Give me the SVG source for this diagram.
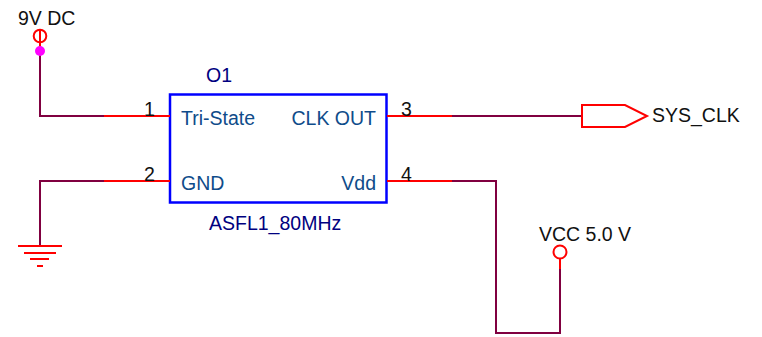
<svg xmlns="http://www.w3.org/2000/svg" width="762" height="337" viewBox="0 0 762 337">
<style>
text{font-family:"Liberation Sans",Arial,sans-serif;font-size:19.5px}
.w{fill:none;stroke:#800040;stroke-width:2}
.r{fill:none;stroke:#f00;stroke-width:2}
.k{fill:#111}
.p{fill:#0f4c8a}
.n{fill:#000080}
</style>
<rect width="762" height="337" fill="#fff"/>
<g id="connectors">
<path class="w" d="M40 50V116H104"/>
<path class="w" d="M104 181H40V246"/>
<path class="w" d="M452 116H582"/>
<path class="w" d="M452 181H496V333H560V268"/>
</g>
<g id="O1">
<rect x="170" y="94.500" width="216.500" height="108" fill="none" stroke="#00f" stroke-width="2.500"/>
<path class="r" d="M104 116H170M104 181H170M387 116H452M387 181H452"/>
<text class="n" x="206" y="82">O1</text>
<text class="n" x="209" y="230">ASFL1_80MHz</text>
<text class="p" x="181" y="125">Tri-State</text>
<text class="p" x="181" y="190">GND</text>
<text class="p" x="376" y="125" text-anchor="end">CLK OUT</text>
<text class="p" x="376" y="190" text-anchor="end">Vdd</text>
<text class="k" x="144" y="116">1</text>
<text class="k" x="144" y="181">2</text>
<text class="k" x="401" y="116">3</text>
<text class="k" x="401" y="181">4</text>
</g>
<g id="power-9v">
<circle cx="40" cy="36" r="6.300" fill="none" stroke="#f00" stroke-width="2"/>
<path class="r" d="M40 29V50"/>
<circle cx="40" cy="51" r="5" fill="#f0f"/>
<text class="k" x="18" y="25">9V DC</text>
</g>
<g id="ground">
<path class="r" d="M18 246H62M24 253H56M30 259H49M37 266H43"/>
</g>
<g id="sys-clk">
<path class="r" d="M582 105H625L647 116L625 127H582Z"/>
<text class="k" x="652" y="122">SYS_CLK</text>
</g>
<g id="vcc">
<circle cx="560" cy="252" r="6.500" fill="none" stroke="#f00" stroke-width="2"/>
<path class="r" d="M560 259V269"/>
<text class="k" x="539" y="241">VCC 5.0 V</text>
</g>
</svg>
